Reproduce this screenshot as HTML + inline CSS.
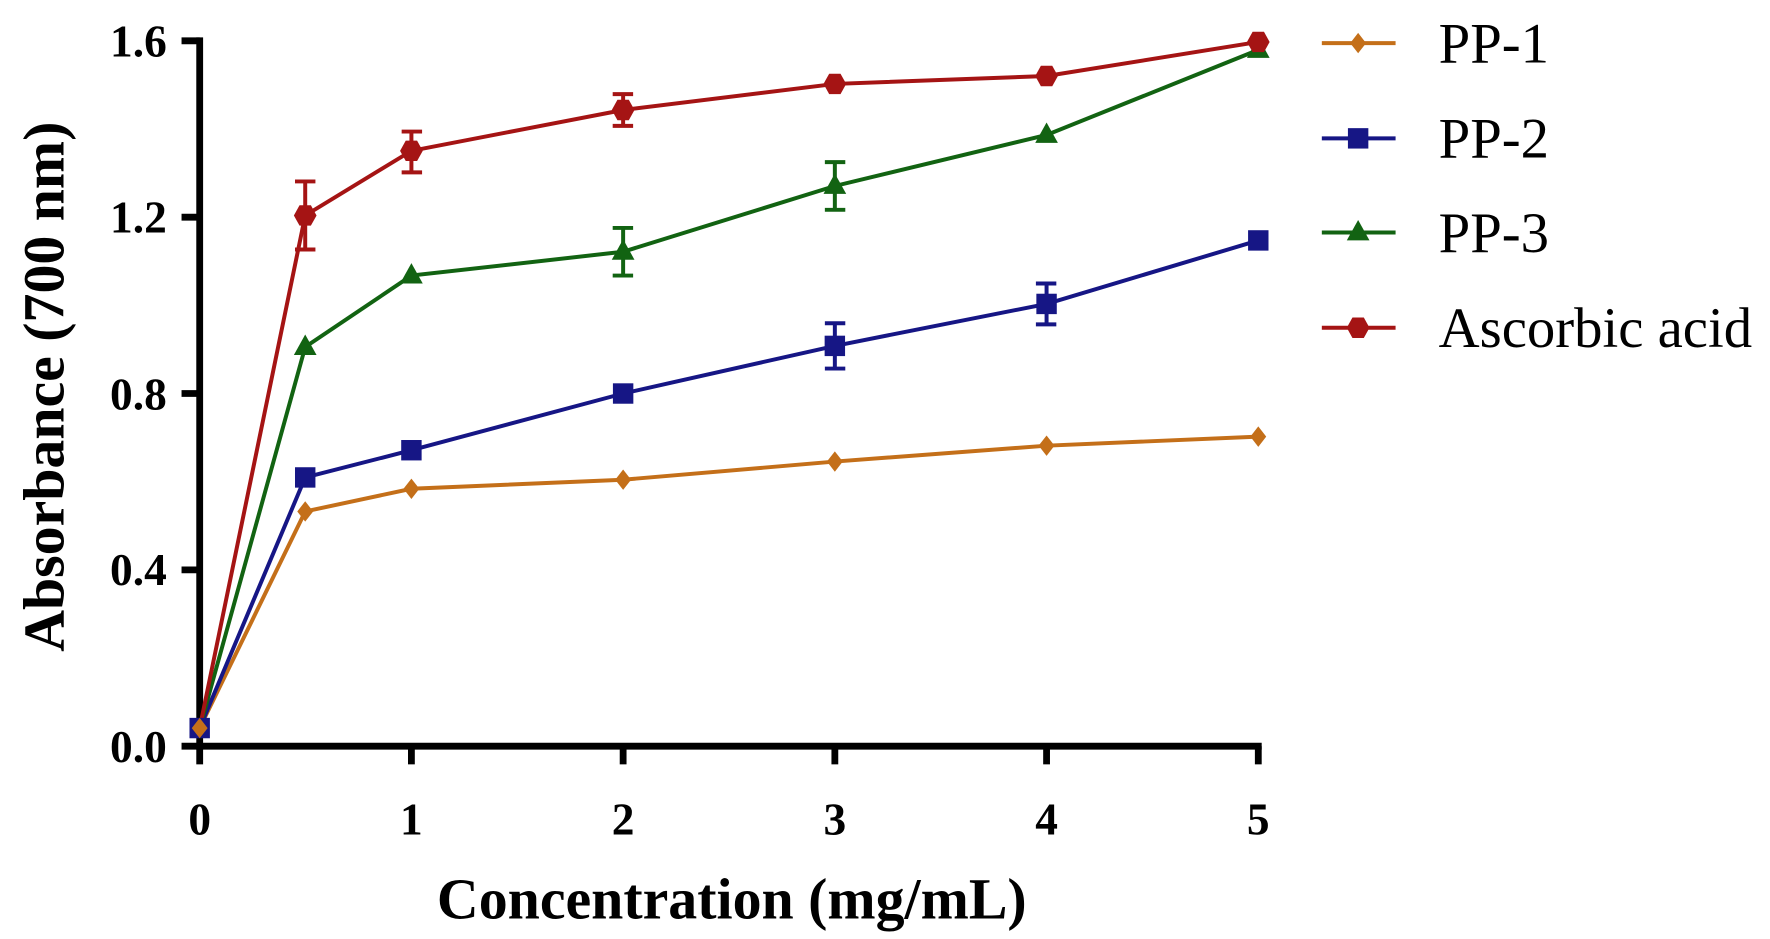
<!DOCTYPE html>
<html><head><style>html,body{margin:0;padding:0;background:#fff;}svg{display:block}</style></head>
<body>
<svg width="1770" height="939" viewBox="0 0 1560 828" preserveAspectRatio="none" xmlns="http://www.w3.org/2000/svg" font-family="Liberation Serif, serif">
<defs>
<path id="dia" d="M0,-9 L7,0 L0,9 L-7,0Z"/>
<rect id="sq" x="-9" y="-9" width="18" height="18"/>
<path id="tri" d="M0,-11 L10,7 L-10,7Z"/>
<path id="hex" d="M-5,-9 L5,-9 L10,0 L5,9 L-5,9 L-10,0Z"/>
</defs>
<g stroke="#000" stroke-width="6" fill="none">
<line x1="176" y1="33" x2="176" y2="661"/>
<line x1="173" y1="658" x2="1112" y2="658"/>
<line x1="160" y1="36" x2="176" y2="36"/>
<line x1="160" y1="191.5" x2="176" y2="191.5"/>
<line x1="160" y1="347" x2="176" y2="347"/>
<line x1="160" y1="502.5" x2="176" y2="502.5"/>
<line x1="160" y1="658" x2="176" y2="658"/>
<line x1="176" y1="658" x2="176" y2="674"/>
<line x1="362.6" y1="658" x2="362.6" y2="674"/>
<line x1="549.2" y1="658" x2="549.2" y2="674"/>
<line x1="735.8" y1="658" x2="735.8" y2="674"/>
<line x1="922.4" y1="658" x2="922.4" y2="674"/>
<line x1="1109" y1="658" x2="1109" y2="674"/>
</g>
<g font-size="40" font-weight="bold" text-anchor="end">
<text x="147" y="50">1.6</text><text x="147" y="205">1.2</text><text x="147" y="361">0.8</text><text x="147" y="516">0.4</text><text x="147" y="672">0.0</text>
</g>
<g font-size="40" font-weight="bold" text-anchor="middle">
<text x="176" y="736">0</text><text x="362.6" y="736">1</text><text x="549.2" y="736">2</text><text x="735.8" y="736">3</text><text x="922.4" y="736">4</text><text x="1109" y="736">5</text>
</g>
<text x="645" y="810" font-size="51" font-weight="bold" text-anchor="middle">Concentration (mg/mL)</text>
<text transform="translate(56,341) rotate(-90)" font-size="51" font-weight="bold" text-anchor="middle">Absorbance (700 nm)</text>
<g fill="none" stroke-width="3.5">
<polyline stroke="#C46F19" points="176,642 269,451 362.6,431 549.2,423 735.8,407 922.4,393 1109,385"/>
<polyline stroke="#161685" points="176,642 269,421 362.6,397 549.2,347 735.8,305 922.4,268 1109,212"/>
<polyline stroke="#126312" points="176,642 269,306 362.6,243 549.2,222 735.8,164 922.4,119 1109,44"/>
<polyline stroke="#A51414" points="176,642 269,190 362.6,133 549.2,97 735.8,74 922.4,67 1109,37"/>
</g>
<g stroke-width="3.5" fill="none">
<g stroke="#161685"><path d="M735.8,285V325M727,285h18M727,325h18M922.4,250V286M913,250h18M913,286h18"/></g>
<g stroke="#126312"><path d="M549.2,201V243M540,201h18M540,243h18M735.8,143V185M727,143h18M727,185h18"/></g>
<g stroke="#A51414"><path d="M269,160V220M260,160h18M260,220h18M362.6,116V152M354,116h18M354,152h18M549.2,83V111M540,83h18M540,111h18"/></g>
</g>
<g fill="#161685"><use href="#sq" x="176" y="642"/><use href="#sq" x="269" y="421"/><use href="#sq" x="362.6" y="397"/><use href="#sq" x="549.2" y="347"/><use href="#sq" x="735.8" y="305"/><use href="#sq" x="922.4" y="268"/><use href="#sq" x="1109" y="212"/></g>
<g fill="#126312"><use href="#tri" x="269" y="306"/><use href="#tri" x="362.6" y="243"/><use href="#tri" x="549.2" y="222"/><use href="#tri" x="735.8" y="164"/><use href="#tri" x="922.4" y="119"/><use href="#tri" x="1109" y="44"/></g>
<g fill="#A51414"><use href="#hex" x="269" y="190"/><use href="#hex" x="362.6" y="133"/><use href="#hex" x="549.2" y="97"/><use href="#hex" x="735.8" y="74"/><use href="#hex" x="922.4" y="67"/><use href="#hex" x="1109" y="37"/></g>
<g fill="#C46F19"><use href="#dia" x="176" y="642"/><use href="#dia" x="269" y="451"/><use href="#dia" x="362.6" y="431"/><use href="#dia" x="549.2" y="423"/><use href="#dia" x="735.8" y="407"/><use href="#dia" x="922.4" y="393"/><use href="#dia" x="1109" y="385"/></g>
<g stroke-width="3.5">
<line x1="1165" y1="38" x2="1230" y2="38" stroke="#C46F19"/>
<line x1="1165" y1="122" x2="1230" y2="122" stroke="#161685"/>
<line x1="1165" y1="205" x2="1230" y2="205" stroke="#126312"/>
<line x1="1165" y1="289" x2="1230" y2="289" stroke="#A51414"/>
</g>
<use href="#dia" x="1197" y="38" fill="#C46F19"/>
<use href="#sq" x="1197" y="122" fill="#161685"/>
<use href="#tri" x="1197" y="205" fill="#126312"/>
<use href="#hex" x="1197" y="289" fill="#A51414"/>
<g font-size="50">
<text x="1268" y="55">PP-1</text><text x="1268" y="139">PP-2</text><text x="1268" y="222">PP-3</text><text x="1268" y="306">Ascorbic acid</text>
</g>
</svg>
</body></html>
